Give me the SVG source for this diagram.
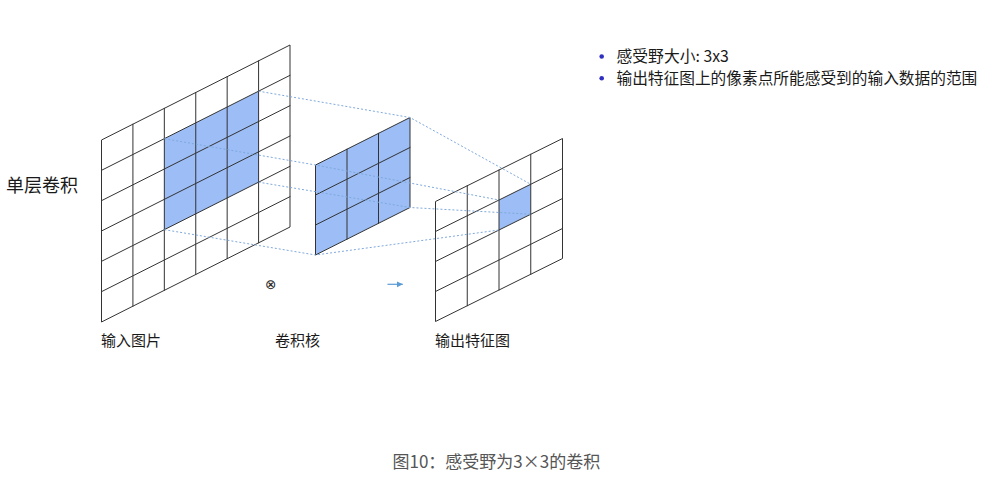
<svg xmlns="http://www.w3.org/2000/svg" width="982" height="481" viewBox="0 0 982 481">
<style>
.g{stroke:#333;stroke-width:1;fill:none;stroke-linecap:round}
.frame{stroke:#333;stroke-width:1;fill:none;stroke-linejoin:round}
.blue{fill:#9cbdf6;stroke:none}
.dot{stroke:#7fa9dc;stroke-width:1;fill:none;stroke-dasharray:2 2}
.t{font-family:"Noto Sans CJK SC","Noto Sans",sans-serif;fill:#1a1a1a}
</style>
<defs>
<marker id="ah" markerWidth="7" markerHeight="7" refX="6" refY="3.5" orient="auto" markerUnits="userSpaceOnUse">
<path d="M0,0.5 L6,3.5 L0,6.5 Z" fill="#5b9bd5"/>
</marker>
</defs>
<rect width="982" height="481" fill="#fff"/>

<g id="input-grid">
<polygon class="blue" points="164.33,138.67 258.58,91.17 258.58,182.17 164.33,229.67"/>
<g class="g">
<line x1="132.92" y1="124.17" x2="132.92" y2="306.17"/>
<line x1="164.33" y1="108.33" x2="164.33" y2="290.33"/>
<line x1="195.75" y1="92.5" x2="195.75" y2="274.5"/>
<line x1="227.17" y1="76.67" x2="227.17" y2="258.67"/>
<line x1="258.58" y1="60.83" x2="258.58" y2="242.83"/>
<line x1="101.5" y1="170.33" x2="290" y2="75.33"/>
<line x1="101.5" y1="200.67" x2="290" y2="105.67"/>
<line x1="101.5" y1="231" x2="290" y2="136"/>
<line x1="101.5" y1="261.33" x2="290" y2="166.33"/>
<line x1="101.5" y1="291.67" x2="290" y2="196.67"/>
</g>
<polygon class="frame" points="101.5,140 290,45 290,227 101.5,322"/>
</g>

<g id="kernel">
<polygon points="315.5,165 410,117.5 410,207.5 315.5,255" fill="#9cbdf6" stroke="#333" stroke-width="1" stroke-linejoin="round"/>
<g class="g">
<line x1="347" y1="149.17" x2="347" y2="239.17"/>
<line x1="378.5" y1="133.33" x2="378.5" y2="223.33"/>
<line x1="315.5" y1="195" x2="410" y2="147.5"/>
<line x1="315.5" y1="225" x2="410" y2="177.5"/>
</g>
</g>

<g id="output-grid">
<polygon class="blue" points="499,200 530.75,184.25 530.75,214.25 499,230"/>
<g class="g">
<line x1="467.25" y1="185.75" x2="467.25" y2="305.75"/>
<line x1="499" y1="170" x2="499" y2="290"/>
<line x1="530.75" y1="154.25" x2="530.75" y2="274.25"/>
<line x1="435.5" y1="231.5" x2="562.5" y2="168.5"/>
<line x1="435.5" y1="261.5" x2="562.5" y2="198.5"/>
<line x1="435.5" y1="291.5" x2="562.5" y2="228.5"/>
</g>
<polygon class="frame" points="435.5,201.5 562.5,138.5 562.5,258.5 435.5,321.5"/>
</g>

<g id="connectors">
<polyline class="dot" points="258.58,91.17 410,117.5 530.75,184.25"/>
<polyline class="dot" points="164.33,138.67 315.5,165 499,200"/>
<polyline class="dot" points="258.58,182.17 410,207.5 530.75,214.25"/>
<polyline class="dot" points="164.33,229.67 315.5,255 499,230"/>
<line x1="387.5" y1="284.3" x2="402.8" y2="284.3" stroke="#5b9bd5" stroke-width="1.2" marker-end="url(#ah)"/>
</g>

<g id="operator">
<text x="270.7" y="288.8" font-family="DejaVu Sans,sans-serif" font-size="13.5" text-anchor="middle" fill="#222">⊗</text>
</g>

<g id="labels">
<text class="t" x="6" y="191.5" font-size="18">单层卷积</text>
<text class="t" x="101" y="345.5" font-size="15">输入图片</text>
<text class="t" x="275" y="345.5" font-size="15">卷积核</text>
<text class="t" x="435" y="345.5" font-size="15">输出特征图</text>
</g>

<g id="notes">
<circle cx="601.7" cy="56.5" r="2.3" fill="#2f2fc0"/>
<circle cx="601.7" cy="78.3" r="2.3" fill="#2f2fc0"/>
<text class="t" x="616.5" y="61.5" font-size="15.8">感受野大小: 3x3</text>
<text class="t" x="616.5" y="83.5" font-size="15.7">输出特征图上的像素点所能感受到的输入数据的范围</text>
</g>

<g id="caption">
<text x="392.5" y="468" font-family="Noto Sans CJK SC,Noto Sans,sans-serif" font-size="17" fill="#555">图10：感受野为3×3的卷积</text>
</g>
</svg>
